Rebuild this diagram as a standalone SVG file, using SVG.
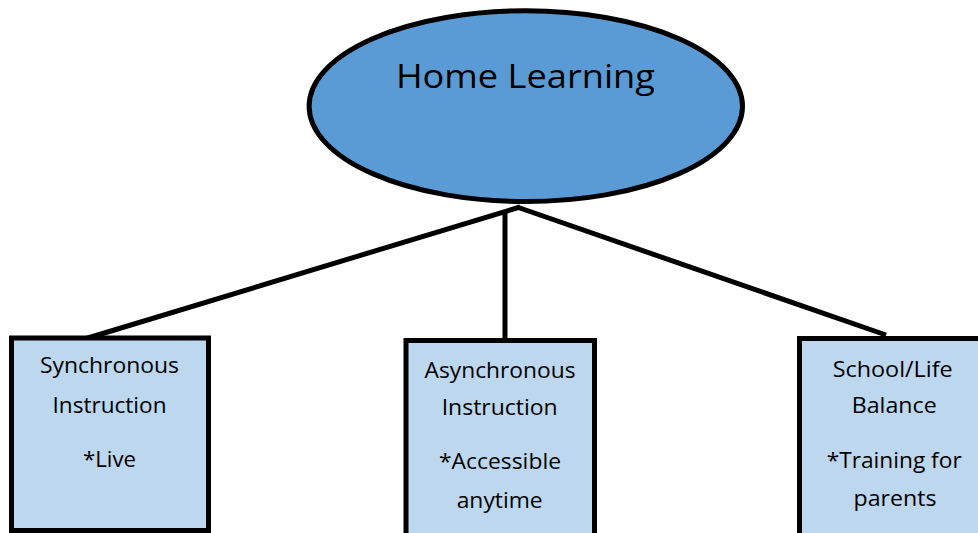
<svg xmlns="http://www.w3.org/2000/svg" width="978" height="533" viewBox="0 0 978 533">
<style>
.box{fill:#BDD7EE;stroke:#000;stroke-width:5}
.t{font-family:"Open Sans","Noto Sans",sans-serif;font-size:21px;fill:#000;text-anchor:middle}
.conn{stroke:#000;stroke-width:5;fill:none}
</style>
<rect width="978" height="533" fill="#fff"/>
<g id="connectors">
<line class="conn" x1="520" y1="207" x2="78" y2="341"/>
<line class="conn" x1="517" y1="207" x2="886" y2="335"/>
<line class="conn" x1="505" y1="211" x2="505" y2="339"/>
</g>
<g id="home-learning">
<ellipse cx="525.8" cy="106.2" rx="216.7" ry="95.4" fill="#5B9BD5" stroke="#000" stroke-width="5"/>
<text x="525.4" y="88.3" font-family="Open Sans, Noto Sans, sans-serif" font-size="32" text-anchor="middle" textLength="259" lengthAdjust="spacingAndGlyphs">Home Learning</text>
</g>
<g id="synchronous">
<rect class="box" x="11.5" y="338" width="197" height="192.5"/>
<text class="t" x="109.5" y="373.3" textLength="139" lengthAdjust="spacingAndGlyphs">Synchronous</text>
<text class="t" x="109.5" y="413.3" textLength="114" lengthAdjust="spacingAndGlyphs">Instruction</text>
<text class="t" x="109.5" y="466.7" textLength="53" lengthAdjust="spacingAndGlyphs">*Live</text>
</g>
<g id="asynchronous">
<rect class="box" x="406" y="340.5" width="188.5" height="200"/>
<text class="t" x="500" y="377.7" textLength="151" lengthAdjust="spacingAndGlyphs">Asynchronous</text>
<text class="t" x="499.7" y="415" textLength="116" lengthAdjust="spacingAndGlyphs">Instruction</text>
<text class="t" x="500" y="469" textLength="122" lengthAdjust="spacingAndGlyphs">*Accessible</text>
<text class="t" x="499.7" y="508.3" textLength="86" lengthAdjust="spacingAndGlyphs">anytime</text>
</g>
<g id="school-life">
<rect class="box" x="799.5" y="338.5" width="200" height="200"/>
<text class="t" x="892.7" y="376.7" textLength="120" lengthAdjust="spacingAndGlyphs">School/Life</text>
<text class="t" x="894.2" y="413.3" textLength="85" lengthAdjust="spacingAndGlyphs">Balance</text>
<text class="t" x="894.2" y="468.3" textLength="135" lengthAdjust="spacingAndGlyphs">*Training for</text>
<text class="t" x="895" y="506" textLength="83" lengthAdjust="spacingAndGlyphs">parents</text>
</g>
</svg>
